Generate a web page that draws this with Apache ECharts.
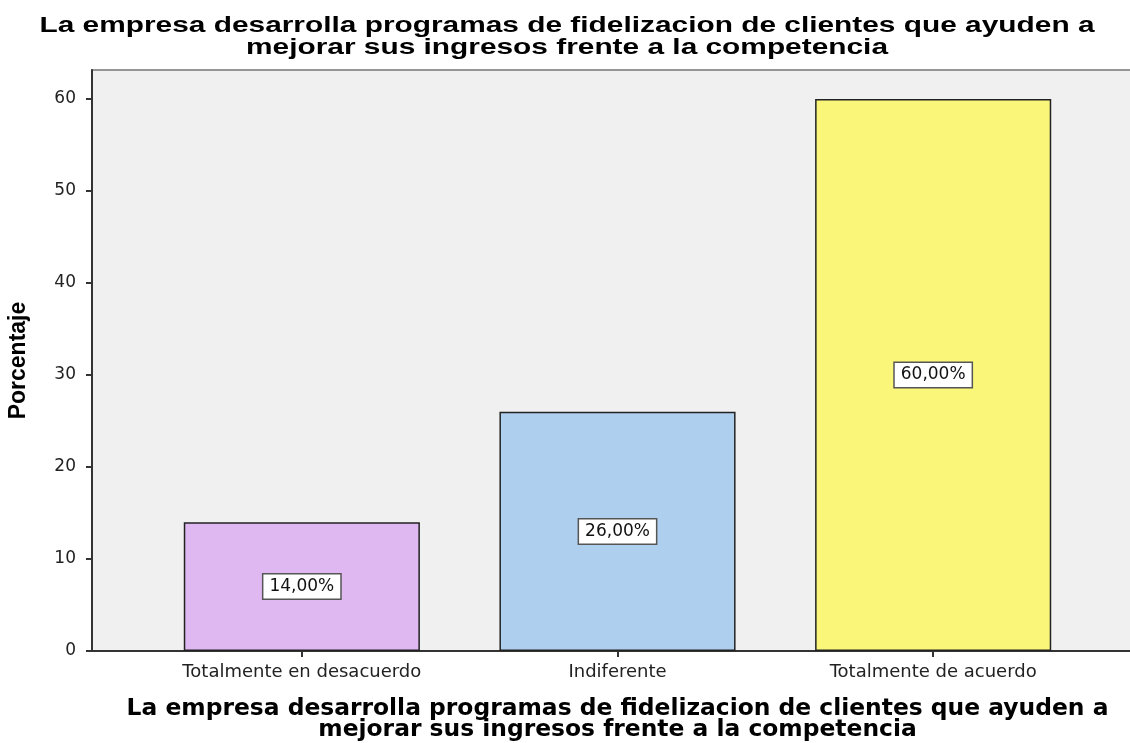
<!DOCTYPE html>
<html>
<head>
<meta charset="utf-8">
<script src="https://cdn.jsdelivr.net/npm/echarts@6/dist/echarts.min.js"></script>
<style>
  html, body { margin: 0; padding: 0; background: #ffffff; }
  #chart { width: 1130px; height: 743px; }
</style>
</head>
<body>
<div id="chart"></div>
<script>
// Response categories and their percentages
const categories = ['Totalmente en desacuerdo', 'Indiferente', 'Totalmente de acuerdo'];
const percentages = [14, 26, 60];
const barColors = ['#dfb8f2', '#aecfee', '#faf67a'];
const yTicks = [0, 10, 20, 30, 40, 50, 60];

const titleLines = ['La empresa desarrolla programas de fidelizacion de clientes que ayuden a',
                    'mejorar sus ingresos frente a la competencia'];
const titleText = titleLines.join('\n');
const yName = 'Porcentaje';

const Y_MAX = 63.15;
const PLOT_TOP = 70;
const PLOT_H = 581;

// heading font, widened to span the plot like the axis title below
const TITLE_FONT = 'bold 22px "Liberation Sans", Arial, sans-serif';
const TITLE_WIDTH = 1055;
const measureCtx = document.createElement('canvas').getContext('2d');
measureCtx.font = TITLE_FONT;
const titleScaleX = TITLE_WIDTH / measureCtx.measureText(titleLines[0]).width;

const chart = echarts.init(document.getElementById('chart'), null, { renderer: 'canvas' });

const option = {
  backgroundColor: '#ffffff',
  animation: false,
  graphic: [
    {
      type: 'text',
      x: 567,
      y: 37,
      scaleX: titleScaleX,
      scaleY: 1,
      originX: 0,
      originY: 0,
      style: {
        text: titleText,
        font: TITLE_FONT,
        lineHeight: 22,
        fill: '#000',
        align: 'center',
        verticalAlign: 'middle'
      },
      z: 10
    }
  ],
  grid: [
    // bars grid (category bands)
    { left: 144, width: 947, top: PLOT_TOP, height: PLOT_H,
      containLabel: false, outerBoundsMode: 'none' },
    // frame grid with background and the visible y axis
    { left: 92, width: 1070, top: PLOT_TOP, height: PLOT_H, show: true,
      backgroundColor: '#f0f0f0', borderColor: '#777', borderWidth: 1.5,
      containLabel: false, outerBoundsMode: 'none' }
  ],
  xAxis: [
    {
      gridIndex: 0,
      type: 'category',
      data: categories,
      axisLine: { show: false },
      axisTick: { show: true, alignWithLabel: true, length: 6, lineStyle: { color: '#333', width: 2 } },
      axisLabel: { fontFamily: 'DejaVu Sans, Verdana', fontSize: 18, color: '#222', margin: 12 },
      name: titleText,
      nameLocation: 'middle',
      nameGap: 47,
      nameTextStyle: {
        fontFamily: 'DejaVu Sans, Verdana',
        fontWeight: 'bold',
        fontSize: 23.4,
        lineHeight: 21,
        color: '#000'
      }
    },
    {
      gridIndex: 1,
      type: 'value',
      min: 0, max: 1,
      axisLine: { show: true, onZero: false, lineStyle: { color: '#333', width: 2 } },
      axisTick: { show: false },
      axisLabel: { show: false },
      splitLine: { show: false }
    }
  ],
  yAxis: [
    {
      gridIndex: 0,
      type: 'value',
      min: 0, max: Y_MAX,
      show: false
    },
    {
      gridIndex: 1,
      type: 'value',
      min: 0, max: Y_MAX, interval: 10,
      name: yName,
      nameLocation: 'middle',
      nameGap: 62,
      nameTextStyle: {
        fontFamily: 'Liberation Sans, Arial',
        fontWeight: 'bold',
        fontSize: 23,
        color: '#000'
      },
      axisLine: { show: true, lineStyle: { color: '#333', width: 2 } },
      axisTick: { show: true, length: 6, lineStyle: { color: '#333', width: 2 } },
      axisLabel: {
        fontFamily: 'DejaVu Sans, Verdana',
        fontSize: 17,
        color: '#222',
        margin: 16,
        showMaxLabel: false,
        formatter: v => (yTicks.indexOf(v) >= 0 ? String(v) : '')
      },
      splitLine: { show: false }
    }
  ],
  series: [
    {
      type: 'bar',
      xAxisIndex: 0,
      yAxisIndex: 0,
      barWidth: '74.8%',
      data: percentages.map((v, i) => ({
        value: v,
        itemStyle: { color: barColors[i], borderColor: '#222', borderWidth: 1.5 }
      })),
      label: {
        show: true,
        position: 'inside',
        formatter: p => p.value.toFixed(2).replace('.', ',') + '%',
        fontFamily: 'DejaVu Sans, Verdana',
        fontSize: 17,
        color: '#111',
        backgroundColor: '#ffffff',
        borderColor: '#555',
        borderWidth: 1.5,
        padding: [4, 6, 3, 6]
      }
    }
  ]
};

chart.setOption(option);
</script>
</body>
</html>
